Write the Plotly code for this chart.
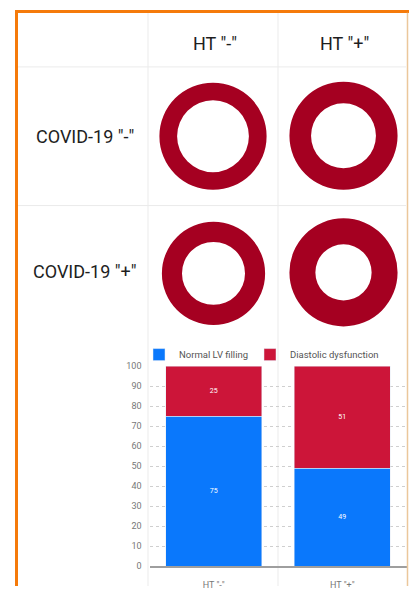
import plotly.graph_objects as go

W, H = 409, 591

# ---- data ----
col_labels = ['HT "-"', 'HT "+"']
row_labels = ['COVID-19 "-"', 'COVID-19 "+"']
# relative cavity size of each ring (hole fraction), row-major
ring_holes = [0.67, 0.60, 0.61, 0.52]
categories = ['HT "-"', 'HT "+"']
normal_lv = [75, 49]
diastolic_dys = [25, 51]
y_ticks = [0, 10, 20, 30, 40, 50, 60, 70, 80, 90, 100]

FONT = "Roboto"
RING = "#A50021"
BLUE = "#0A78FC"
RED = "#CC1539"

def px(x):
    return x / W

def py(y):
    return 1 - y / H

fig = go.Figure()

# ring cells (centre x, centre y, radius) in pixels
ring_geom = [(213, 133.5, 54.5), (343.5, 133, 55), (213.5, 273, 52.5), (343.5, 272, 55)]
for (cx, cy, r), hole in zip(ring_geom, ring_holes):
    fig.add_trace(go.Pie(
        values=[1], labels=["ring"], hole=hole, sort=False,
        marker=dict(colors=[RING], line=dict(width=0)),
        textinfo="none", hoverinfo="skip", showlegend=False,
        domain=dict(x=[px(cx - r), px(cx + r)], y=[py(cy + r), py(cy - r)]),
    ))

fig.add_trace(go.Bar(
    name="Normal LV filling", x=categories, y=normal_lv, marker_color=BLUE,
    text=normal_lv, textposition="inside", insidetextanchor="middle",
    textfont=dict(size=7, color="white", family=FONT), textangle=0,
    legend="legend",
))
fig.add_trace(go.Bar(
    name="Diastolic dysfunction", x=categories, y=diastolic_dys, marker_color=RED,
    text=diastolic_dys, textposition="inside", insidetextanchor="middle",
    textfont=dict(size=7, color="white", family=FONT), textangle=0,
    legend="legend2",
))

shapes = []
grid_c = "#EBEBEB"
# table lines
for yy in [63, 204]:
    shapes.append(dict(type="line", xref="paper", yref="paper",
                       x0=px(18), x1=px(406), y0=py(yy), y1=py(yy),
                       line=dict(color=grid_c, width=1)))
for xx in [148, 278]:
    shapes.append(dict(type="line", xref="paper", yref="paper",
                       x0=px(xx), x1=px(xx), y0=py(8), y1=py(591),
                       line=dict(color=grid_c, width=1), layer="below"))
# orange frame
shapes.append(dict(type="line", xref="paper", yref="paper",
                   x0=px(15), x1=px(409), y0=py(6.5), y1=py(6.5),
                   line=dict(color="#F57A0A", width=3)))
shapes.append(dict(type="line", xref="paper", yref="paper",
                   x0=px(16.5), x1=px(16.5), y0=py(5), y1=py(591),
                   line=dict(color="#F57A0A", width=3)))
shapes.append(dict(type="line", xref="paper", yref="paper",
                   x0=px(407.5), x1=px(407.5), y0=py(8), y1=py(591),
                   line=dict(color="#EBC79B", width=1.5)))

annotations = []
for lab, cx in zip(col_labels, [215, 344]):
    annotations.append(dict(text=lab, x=px(cx), y=py(39), xref="paper", yref="paper",
                            showarrow=False, xanchor="center", yanchor="middle",
                            font=dict(family=FONT, size=18, color="#1E1E1E")))
for lab, cy in zip(row_labels, [134, 271]):
    annotations.append(dict(text=lab, x=px(84.5), y=py(cy), xref="paper", yref="paper",
                            showarrow=False, xanchor="center", yanchor="middle",
                            font=dict(family=FONT, size=18, color="#1E1E1E")))

legend_common = dict(orientation="h", yanchor="middle", xanchor="left",
                     font=dict(family=FONT, size=9.5, color="#555555"),
                     bgcolor="rgba(0,0,0,0)", itemclick=False, itemdoubleclick=False)

fig.update_layout(
    width=W, height=H, autosize=False,
    margin=dict(l=0, r=0, t=0, b=0),
    paper_bgcolor="white", plot_bgcolor="white",
    barmode="stack", bargap=0.253,
    font=dict(family=FONT),
    shapes=shapes, annotations=annotations,
    showlegend=True,
    legend=dict(x=px(139), y=py(355.6), **legend_common),
    legend2=dict(x=px(250), y=py(355.6), **legend_common),
    xaxis=dict(domain=[px(149.5), px(406.5)], showgrid=False, zeroline=False,
               showline=True, linecolor="#9E9E9E", linewidth=1.5,
               ticks="", ticklabelstandoff=9,
               tickfont=dict(family=FONT, size=9, color="#777777"),
               fixedrange=True),
    yaxis=dict(domain=[py(571), py(367.3)], range=[0, 100], tickvals=y_ticks,
               showgrid=True, gridcolor="#CFCFCF", griddash="3px,3px", gridwidth=1,
               zeroline=False, showline=False, ticks="", ticklabelstandoff=7,
               tickfont=dict(family=FONT, size=9, color="#777777"), fixedrange=True),
)

fig.write_html("out.html", config={"displayModeBar": False})
